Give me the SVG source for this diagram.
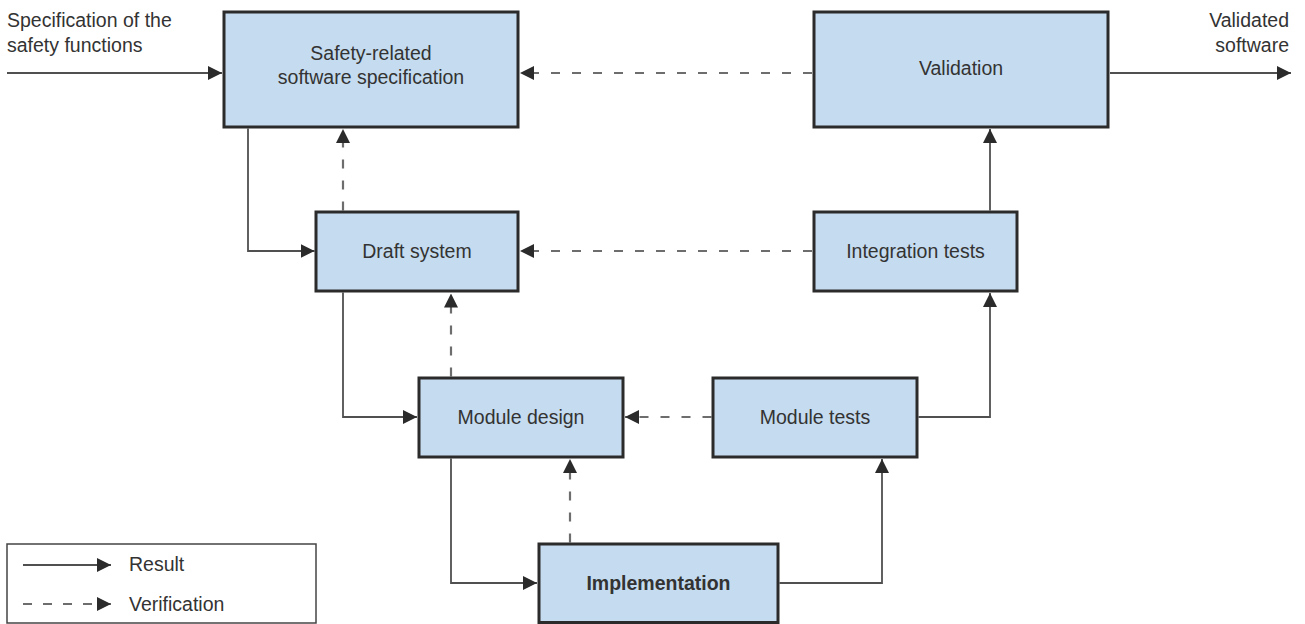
<svg xmlns="http://www.w3.org/2000/svg" width="1305" height="624" viewBox="0 0 1305 624">
  <defs>
    <style>
      .box { fill: #c5dbef; stroke: #2b2b2b; stroke-width: 3; }
      .lbl { font-family: "Liberation Sans", Arial, sans-serif; font-size: 19.5px; fill: #333333; }
      .ctr { text-anchor: middle; }
      .bold { font-weight: bold; }
      .res { fill: none; stroke: #505050; stroke-width: 1.8; }
      .ver { fill: none; stroke: #6d6d6d; stroke-width: 2.2; stroke-dasharray: 9 12; }
      .legbox { fill: #ffffff; stroke: #444444; stroke-width: 1.5; }
    </style>
    <marker id="ah" viewBox="0 0 14 14" markerUnits="userSpaceOnUse" markerWidth="14" markerHeight="14" refX="14" refY="7" orient="auto">
      <path d="M0,0 L14,7 L0,14 z" fill="#2b2b2b"/>
    </marker>
  </defs>

  <rect width="1305" height="624" fill="#ffffff"/>

  <g id="connectors">
    <path class="res" d="M7,73 H222" marker-end="url(#ah)"/>
    <path class="res" d="M1110,73 H1291" marker-end="url(#ah)"/>
    <path class="res" d="M248,128.5 V251 H314.5" marker-end="url(#ah)"/>
    <path class="ver" d="M343,210.5 V129" marker-end="url(#ah)"/>
    <path class="ver" d="M812,73 H520" marker-end="url(#ah)"/>
    <path class="ver" d="M812,251 H520" marker-end="url(#ah)"/>
    <path class="res" d="M343,292.5 V417 H417" marker-end="url(#ah)"/>
    <path class="ver" d="M451,376.5 V293.5" marker-end="url(#ah)"/>
    <path class="ver" d="M711.5,417 H625" marker-end="url(#ah)"/>
    <path class="res" d="M451,458.5 V583 H537" marker-end="url(#ah)"/>
    <path class="ver" d="M570,542.5 V459" marker-end="url(#ah)"/>
    <path class="res" d="M779.5,583 H882 V459" marker-end="url(#ah)"/>
    <path class="res" d="M918.5,417 H990 V293" marker-end="url(#ah)"/>
    <path class="res" d="M990,210.5 V129" marker-end="url(#ah)"/>
  </g>

  <g id="input-label">
    <text class="lbl" x="7" y="27">Specification of the</text>
    <text class="lbl" x="7" y="52">safety functions</text>
  </g>

  <g id="output-label">
    <text class="lbl" x="1289" y="27" text-anchor="end">Validated</text>
    <text class="lbl" x="1289" y="52" text-anchor="end">software</text>
  </g>

  <g id="node-safety-spec">
    <rect class="box" x="224" y="12" width="294" height="115"/>
    <text class="lbl ctr" x="371" y="60">Safety-related</text>
    <text class="lbl ctr" x="371" y="84">software specification</text>
  </g>

  <g id="node-validation">
    <rect class="box" x="814" y="12" width="294" height="115"/>
    <text class="lbl ctr" x="961" y="75">Validation</text>
  </g>

  <g id="node-draft-system">
    <rect class="box" x="316" y="212" width="202" height="79"/>
    <text class="lbl ctr" x="417" y="258">Draft system</text>
  </g>

  <g id="node-integration-tests">
    <rect class="box" x="814" y="212" width="203" height="79"/>
    <text class="lbl ctr" x="915.5" y="258">Integration tests</text>
  </g>

  <g id="node-module-design">
    <rect class="box" x="419" y="378" width="204" height="79"/>
    <text class="lbl ctr" x="521" y="424">Module design</text>
  </g>

  <g id="node-module-tests">
    <rect class="box" x="713" y="378" width="204" height="79"/>
    <text class="lbl ctr" x="815" y="424">Module tests</text>
  </g>

  <g id="node-implementation">
    <rect class="box" x="539" y="544" width="239" height="78.5"/>
    <text class="lbl ctr bold" x="658.5" y="590">Implementation</text>
  </g>

  <g id="legend">
    <rect class="legbox" x="7" y="544" width="309" height="79"/>
    <path class="res" d="M23,565 H111" marker-end="url(#ah)"/>
    <path class="ver" d="M23,604 H111" style="stroke-dasharray: 9 11" marker-end="url(#ah)"/>
    <text class="lbl" x="129" y="571">Result</text>
    <text class="lbl" x="129" y="611">Verification</text>
  </g>
</svg>
